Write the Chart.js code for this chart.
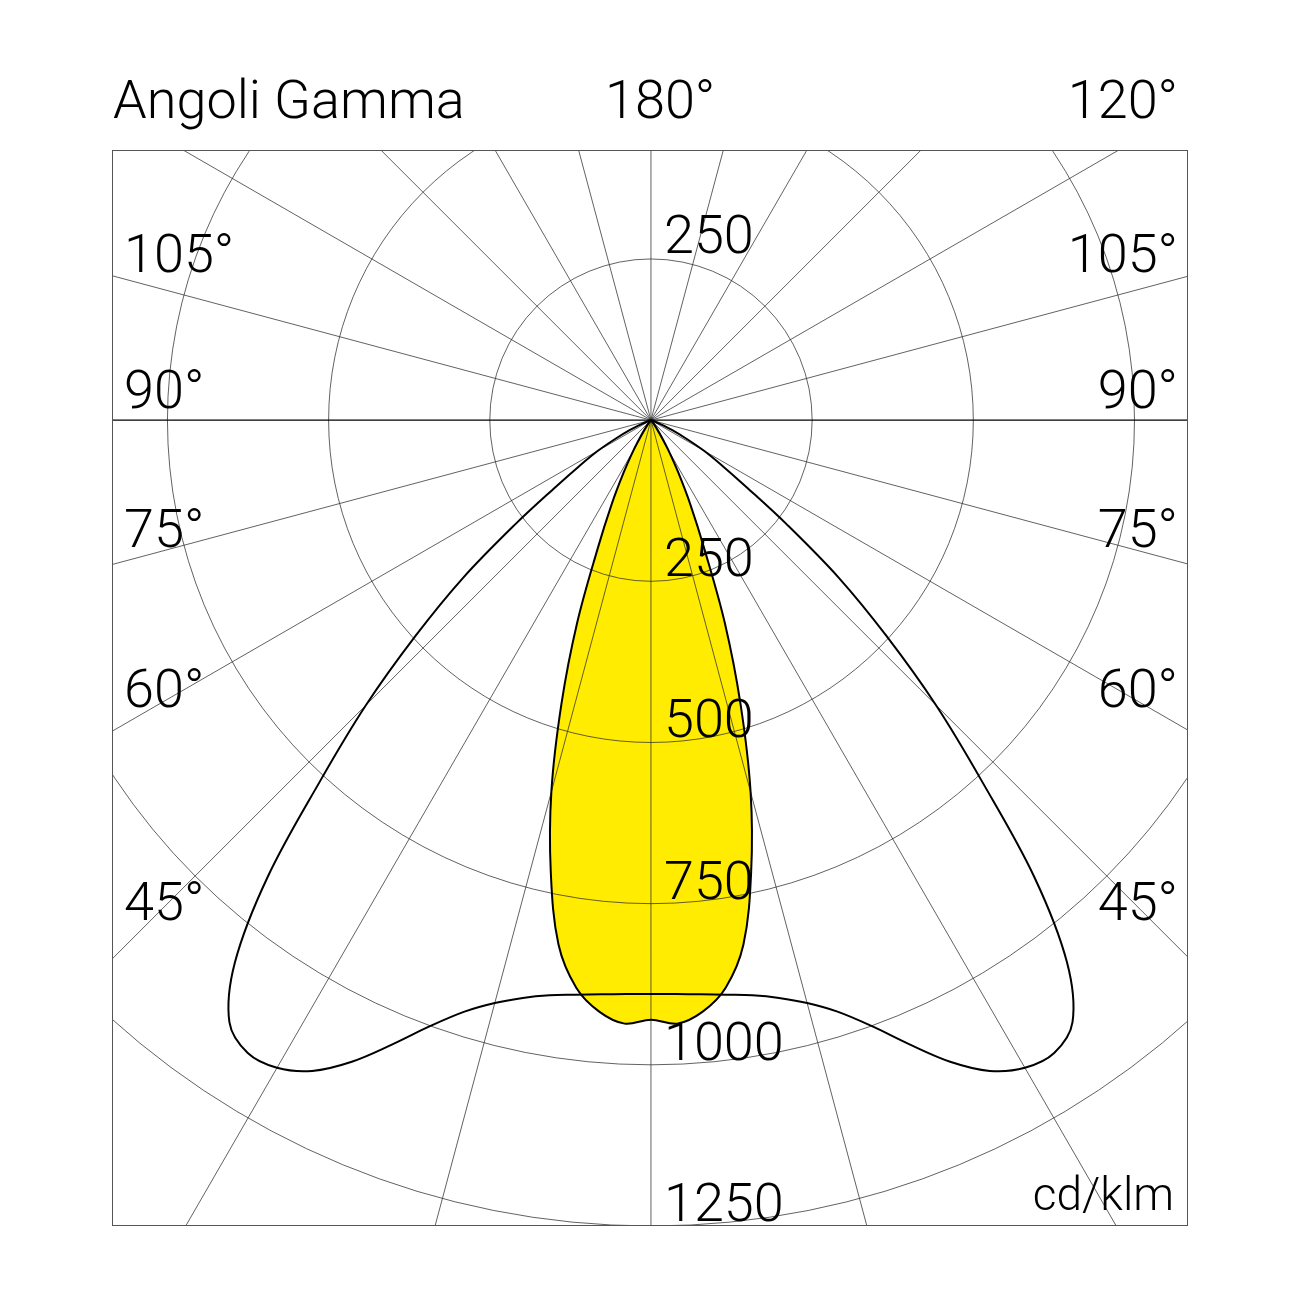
<!DOCTYPE html>
<html>
<head>
<meta charset="utf-8">
<script src="https://cdn.jsdelivr.net/npm/chart.js@4.4.1/dist/chart.umd.min.js"></script>
<style>
html, body { margin: 0; padding: 0; background: #fff; }
#wrap { width: 1302px; height: 1302px; position: relative; }
</style>
</head>
<body>
<div id="wrap"><canvas id="polar"></canvas></div>
<script>
// gamma angles (deg from nadir) and intensities in cd/klm
const gammaAngles = [0, 2.5, 5, 7.5, 10, 12.5, 15, 17.5, 20, 22.5, 25, 27.5, 30, 32.5, 35, 37.5, 40, 42.5,
  45, 47.5, 50, 52.5, 55, 57.5, 60, 62.5, 65, 67.5, 70, 72.5, 75, 77.5, 80, 82.5, 85, 87.5, 90];
// wide plane (black outline)
const wideValues = [890, 891, 894, 899, 906, 918, 936, 962, 1000, 1048, 1098, 1138, 1160, 1164, 1140, 1060, 925, 760,
  625, 495, 380, 265, 180, 130, 95, 60, 35, 15, 5, 0, 0, 0, 0, 0, 0, 0, 0];
// narrow plane (yellow)
const narrowValues = [930, 937, 921, 888, 826, 718, 597, 462, 335, 217, 145, 92, 55, 30, 15, 6, 0, 0,
  0, 0, 0, 0, 0, 0, 0, 0, 0, 0, 0, 0, 0, 0, 0, 0, 0, 0, 0];

const ringValues = [250, 500, 750, 1000, 1250];
const ringLabels = ['250', '500', '750', '1000', '1250'];
const spokeAngles = [0, 15, 30, 45, 60, 75, 105, 120, 135, 150, 165, 180, 195, 210, 225, 240, 255, 285, 300, 315, 330, 345];
const leftLabels = ['105°', '90°', '75°', '60°', '45°'];
const rightLabels = ['105°', '90°', '75°', '60°', '45°'];

// left half is mirrored onto the right half, both starting and ending at the centre
function polarPoints(values) {
  const pts = [];
  for (let i = gammaAngles.length - 1; i >= 0; i--) {
    const a = gammaAngles[i] * Math.PI / 180;
    pts.push({x: -values[i] * Math.sin(a), y: -values[i] * Math.cos(a)});
  }
  for (let i = 1; i < gammaAngles.length; i++) {
    const a = gammaAngles[i] * Math.PI / 180;
    pts.push({x: values[i] * Math.sin(a), y: -values[i] * Math.cos(a)});
  }
  return pts;
}

const FONT = 'Roboto, "Liberation Sans", Arial, sans-serif';

const polarGrid = {
  id: 'polarGrid',
  beforeDatasetsDraw(chart) {
    const {ctx, chartArea: a, scales: {x, y}} = chart;
    const cx = x.getPixelForValue(0), cy = y.getPixelForValue(0);
    const unit = x.getPixelForValue(1) - cx;
    ctx.save();
    ctx.beginPath();
    ctx.rect(a.left, a.top, a.right - a.left, a.bottom - a.top);
    ctx.clip();
    ctx.strokeStyle = '#2e2e2e';
    ctx.lineWidth = 0.75;
    ringValues.forEach(v => {
      ctx.beginPath();
      ctx.arc(cx, cy, v * unit, 0, Math.PI * 2);
      ctx.stroke();
    });
    spokeAngles.forEach(g => {
      const rad = g * Math.PI / 180;
      const far = 3000 * unit;
      ctx.beginPath();
      ctx.moveTo(cx, cy);
      ctx.lineTo(cx + far * Math.sin(rad), cy + far * Math.cos(rad));
      ctx.stroke();
    });
    // 90 deg axis
    ctx.strokeStyle = '#000';
    ctx.lineWidth = 1.2;
    ctx.beginPath();
    ctx.moveTo(a.left, cy);
    ctx.lineTo(a.right, cy);
    ctx.stroke();
    ctx.restore();
  },
  afterDatasetsDraw(chart) {
    const {ctx, chartArea: a, scales: {x, y}} = chart;
    const cx = x.getPixelForValue(0), cy = y.getPixelForValue(0);
    const unit = x.getPixelForValue(1) - cx;
    ctx.save();
    // frame
    ctx.strokeStyle = '#555';
    ctx.lineWidth = 1;
    ctx.strokeRect(a.left + 0.5, a.top + 0.5, a.right - a.left - 1, a.bottom - a.top - 1);

    ctx.fillStyle = '#000';
    ctx.font = '300 54px ' + FONT;
    ctx.textBaseline = 'alphabetic';
    ctx.textAlign = 'left';
    ctx.fillText('Angoli Gamma', a.left + 1, 118);
    ctx.fillText('180°', 605, 118);
    ctx.textAlign = 'right';
    ctx.fillText('120°', a.right - 10, 118);

    // ring values
    ctx.textAlign = 'left';
    ctx.fillText(ringLabels[0], cx + 13, cy - ringValues[0] * unit - 6);
    ringValues.forEach((v, i) => {
      ctx.fillText(ringLabels[i], cx + 13, cy + v * unit - 5);
    });

    // gamma labels on the sides
    const sideY = [272, 408, 547, 707, 920];
    leftLabels.forEach((t, i) => {
      ctx.textAlign = 'left';
      ctx.fillText(t, a.left + 12, sideY[i]);
    });
    rightLabels.forEach((t, i) => {
      ctx.textAlign = 'right';
      ctx.fillText(t, a.right - 10, sideY[i]);
    });

    ctx.font = '300 46px ' + FONT;
    ctx.textAlign = 'right';
    ctx.fillText('cd/klm', a.right - 14, 1210);
    ctx.restore();
  }
};

const chart = new Chart(document.getElementById('polar'), {
  type: 'scatter',
  data: {
    datasets: [
      {
        data: polarPoints(narrowValues),
        showLine: true,
        fill: 'shape',
        backgroundColor: '#ffec00',
        borderColor: '#000',
        borderWidth: 2,
        tension: 0.35,
        pointRadius: 0
      },
      {
        data: polarPoints(wideValues),
        showLine: true,
        fill: false,
        borderColor: '#000',
        borderWidth: 2,
        tension: 0.35,
        pointRadius: 0
      }
    ]
  },
  options: {
    responsive: true,
    maintainAspectRatio: false,
    animation: false,
    layout: {padding: {left: 112, top: 150, right: 114, bottom: 76}},
    scales: {
      x: {type: 'linear', min: -836, max: 833, display: false},
      y: {type: 'linear', min: -1250, max: 419, display: false}
    },
    plugins: {
      legend: {display: false},
      tooltip: {enabled: false},
      filler: {drawTime: 'beforeDatasetsDraw'}
    }
  },
  plugins: [polarGrid]
});
</script>
</body>
</html>
